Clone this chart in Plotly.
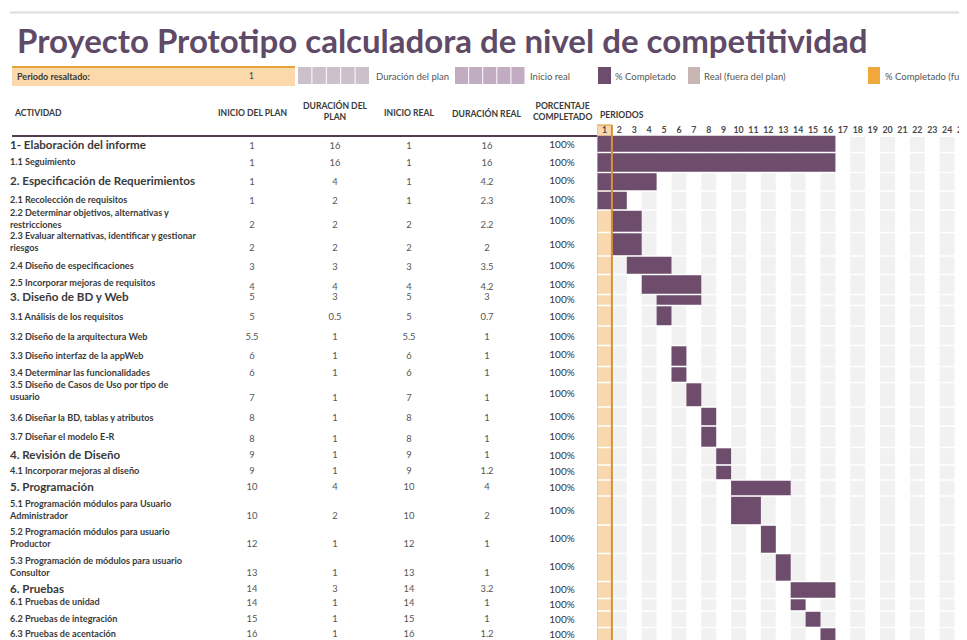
import plotly.graph_objects as go

# ---------------- data ----------------
activities = [
    "1- Elaboración del informe",
    "1.1 Seguimiento",
    "2. Especificación de Requerimientos",
    "2.1 Recolección de requisitos",
    "2.2 Determinar objetivos, alternativas y<br>restricciones",
    "2.3 Evaluar alternativas, identificar y gestionar<br>riesgos",
    "2.4 Diseño de especificaciones",
    "2.5 Incorporar mejoras de requisitos",
    "3. Diseño de BD y Web",
    "3.1 Análisis de los requisitos",
    "3.2 Diseño de la arquitectura Web",
    "3.3 Diseño interfaz de la appWeb",
    "3.4 Determinar las funcionalidades",
    "3.5 Diseño de Casos de Uso por tipo de<br>usuario",
    "3.6 Diseñar la BD, tablas y atributos",
    "3.7 Diseñar el modelo E-R",
    "4. Revisión de Diseño",
    "4.1 Incorporar mejoras al diseño",
    "5. Programación",
    "5.1 Programación módulos para Usuario<br>Administrador",
    "5.2 Programación módulos para usuario<br>Productor",
    "5.3 Programación de módulos para usuario<br>Consultor",
    "6. Pruebas",
    "6.1 Pruebas de unidad",
    "6.2 Pruebas de integración",
    "6.3 Pruebas de acentación",
]
is_section = [1, 0, 1, 0, 0, 0, 0, 0, 1, 0, 0, 0, 0, 0, 0, 0, 1, 0, 1, 0, 0, 0, 1, 0, 0, 0]
plan_start = [1, 1, 1, 1, 2, 2, 3, 4, 5, 5, 5.5, 6, 6, 7, 8, 8, 9, 9, 10, 10, 12, 13, 14, 14, 15, 16]
plan_dur = [16, 16, 4, 2, 2, 2, 3, 4, 3, 0.5, 1, 1, 1, 1, 1, 1, 1, 1, 4, 2, 1, 1, 3, 1, 1, 1]
real_start = [1, 1, 1, 1, 2, 2, 3, 4, 5, 5, 5.5, 6, 6, 7, 8, 8, 9, 9, 10, 10, 12, 13, 14, 14, 15, 16]
real_dur = [16, 16, 4.2, 2.3, 2.2, 2, 3.5, 4.2, 3, 0.7, 1, 1, 1, 1, 1, 1, 1, 1.2, 4, 2, 1, 1, 3.2, 1, 1, 1.2]
pct_complete = [100] * 26
# period cells painted in the Gantt (as seen in the sheet)
gantt_start = [1, 1, 1, 1, 2, 2, 3, 4, 5, 5, 0, 6, 6, 7, 8, 8, 9, 9, 10, 10, 12, 13, 14, 14, 15, 16]
gantt_cells = [16, 16, 4, 2, 2, 2, 3, 4, 3, 1, 0, 1, 1, 1, 1, 1, 1, 1, 4, 2, 1, 1, 3, 1, 1, 1]
periods = list(range(1, 26))
highlight_period = 1

title = "Proyecto Prototipo calculadora de nivel de competitividad"

# ---------------- layout (page-pixel geometry of the sheet) ----------------
PW, PH = 967, 640   # page size
OFF = 8             # default page margin around the plot div
W, H = PW - OFF, PH - OFF
G0 = 597.0          # page x of left edge of period grid
CW = 14.9           # width of one period column


def px(x):          # page x -> paper fraction
    return (x - OFF) / W


row_edges = [135, 152.5, 172.5, 191, 210, 232.5, 256, 274.5, 294.5, 305.5, 326, 345.5,
             366.5, 382.5, 407, 426, 447.5, 465, 480, 496, 525, 553.5, 581.5, 598.5,
             611, 627.5, 645]
label_y = [146, 163, 182, 201, 220, 243, 267, 284, 298, 318, 338, 357, 374, 392, 419, 438,
           456, 472, 488, 511, 539, 568, 590, 603, 620, 635]
value_y = [147, 164, 183, 202, 226, 249, 268, 288, 298, 318, 338, 357, 374, 399, 419, 440,
           456, 472, 488, 517, 545, 574, 590, 604, 620, 635]
pct_y = [145, 163, 181, 200, 221, 245, 266, 285, 300, 317, 337, 355, 373, 394, 417, 437,
         456, 472, 488, 511, 539, 567, 590, 605, 620, 635]
col_x = {"ps": 252, "pd": 335, "rs": 409, "rd": 487, "pc": 562}

PURPLE = "#6e4d6c"
TXT = "#3a3a3a"
VAL = "#555555"
FONT = "Lato"

row_c = [(row_edges[i] + row_edges[i + 1]) / 2 for i in range(len(activities))]
row_h = [(row_edges[i + 1] - row_edges[i]) for i in range(len(activities))]

fig = go.Figure()


def fmt(v):
    return f"{v:g}"


# Gantt bars
fig.add_trace(go.Bar(
    orientation="h",
    y=row_c,
    x=gantt_cells,
    base=[s - 1 for s in gantt_start],
    width=[h - 1.6 for h in row_h],
    marker=dict(color=PURPLE, line=dict(width=0)),
    hoverinfo="skip",
    xaxis="x", yaxis="y",
    showlegend=False,
))

# Period header numbers
fig.add_trace(go.Scatter(
    x=[p - 0.5 for p in periods], y=[131] * len(periods),
    mode="text", text=[str(p) for p in periods],
    textfont=dict(family=FONT, size=8.8, color="#4a4a4a", weight="bold"),
    textposition="middle center", hoverinfo="skip", showlegend=False,
    cliponaxis=False, xaxis="x", yaxis="y",
))

# Table: activity labels
sec_idx = [i for i in range(len(activities)) if is_section[i]]
sub_idx = [i for i in range(len(activities)) if not is_section[i]]
fig.add_trace(go.Scatter(
    x=[10] * len(sec_idx), y=[label_y[i] for i in sec_idx],
    mode="text", text=[activities[i] for i in sec_idx],
    textfont=dict(family=FONT, size=11.6, color=TXT, weight="bold"),
    textposition="middle right", hoverinfo="skip", showlegend=False,
    cliponaxis=False, xaxis="x2", yaxis="y",
))
fig.add_trace(go.Scatter(
    x=[10] * len(sub_idx), y=[label_y[i] for i in sub_idx],
    mode="text", text=[activities[i] for i in sub_idx],
    textfont=dict(family=FONT, size=9.1, color=TXT, weight="bold"),
    textposition="middle right", hoverinfo="skip", showlegend=False,
    cliponaxis=False, xaxis="x2", yaxis="y",
))

# Table: numeric columns
for key, vals in (("ps", plan_start), ("pd", plan_dur), ("rs", real_start), ("rd", real_dur)):
    fig.add_trace(go.Scatter(
        x=[col_x[key]] * len(vals), y=value_y,
        mode="text", text=[fmt(v) for v in vals],
        textfont=dict(family=FONT, size=9.4, color=VAL),
        textposition="middle center", hoverinfo="skip", showlegend=False,
        cliponaxis=False, xaxis="x2", yaxis="y",
    ))
fig.add_trace(go.Scatter(
    x=[col_x["pc"]] * len(pct_complete), y=pct_y,
    mode="text", text=[f"{v}%" for v in pct_complete],
    textfont=dict(family=FONT, size=10, color="#333333"),
    textposition="middle center", hoverinfo="skip", showlegend=False,
    cliponaxis=False, xaxis="x2", yaxis="y",
))

shapes = []
# top grey rule
shapes.append(dict(type="line", xref="paper", yref="y", x0=px(10), x1=1, y0=12.5, y1=12.5,
                   line=dict(color="#e3e3e3", width=2.5), layer="below"))
# Periodo resaltado box
shapes.append(dict(type="rect", xref="x2", yref="y", x0=12, x1=295, y0=67, y1=86,
                   fillcolor="#fbd9ab", line=dict(width=0), layer="below"))
shapes.append(dict(type="line", xref="x2", yref="y", x0=12, x1=295, y0=67, y1=67,
                   line=dict(color="#e8a23c", width=2.2), layer="below"))
# legend: plan duration cells
for k in range(5):
    shapes.append(dict(type="rect", xref="x2", yref="y", x0=298 + k * 14.4, x1=298 + (k + 1) * 14.4 - 1,
                       y0=67, y1=84, fillcolor="#cbc0cc", line=dict(width=0), layer="below"))
# legend: real start cells
for k in range(5):
    shapes.append(dict(type="rect", xref="x2", yref="y", x0=455 + k * 14.1, x1=455 + (k + 1) * 14.1 - 1,
                       y0=67, y1=84, fillcolor="#bba3bb", opacity=0.9, line=dict(width=0), layer="above"))
# legend swatches
shapes.append(dict(type="rect", xref="paper", yref="y", x0=px(598), x1=px(611), y0=67, y1=84,
                   fillcolor=PURPLE, line=dict(width=0)))
shapes.append(dict(type="rect", xref="paper", yref="y", x0=px(688), x1=px(700), y0=67, y1=84,
                   fillcolor="#c8b6b3", line=dict(width=0)))
shapes.append(dict(type="rect", xref="paper", yref="y", x0=px(868), x1=px(880), y0=67, y1=84,
                   fillcolor="#f0a83a", line=dict(width=0)))
# header rule
shapes.append(dict(type="line", xref="x2", yref="y", x0=12, x1=G0, y0=136, y1=136,
                   line=dict(color="#4e3e50", width=2), layer="below"))
# grey stripes for even periods
for p in periods:
    if p % 2 == 0:
        shapes.append(dict(type="rect", xref="x", yref="y", x0=p - 1, x1=p, y0=137, y1=PH,
                           fillcolor="#f1f1f1", line=dict(width=0), layer="below"))
# highlighted period column
shapes.append(dict(type="rect", xref="x", yref="y", x0=highlight_period - 1, x1=highlight_period,
                   y0=125, y1=PH, fillcolor="#fad8ae", line=dict(width=0), layer="below"))
# white row separators in grid
for e in row_edges[1:-1]:
    shapes.append(dict(type="line", xref="x", yref="y", x0=0, x1=26, y0=e, y1=e,
                       line=dict(color="white", width=1.4), layer="below"))
# highlight borders
shapes.append(dict(type="line", xref="x", yref="y", x0=highlight_period - 1, x1=highlight_period - 1,
                   y0=125, y1=PH, line=dict(color="#f0bd78", width=1.2), layer="above"))
shapes.append(dict(type="line", xref="x", yref="y", x0=highlight_period, x1=highlight_period,
                   y0=125, y1=PH, line=dict(color="#d4923a", width=2), layer="above"))
shapes.append(dict(type="line", xref="x", yref="y", x0=highlight_period - 1, x1=highlight_period,
                   y0=125, y1=125, line=dict(color="#e0a050", width=1.2), layer="below"))

ann = []


def A(x, y, text, size, color=TXT, bold=False, xanchor="left", xref="x2", align="left"):
    ann.append(dict(x=x, y=y, xref=xref, yref="y", text=text, showarrow=False,
                    xanchor=xanchor, yanchor="middle", align=align,
                    font=dict(family=FONT, size=size, color=color, weight="bold" if bold else "normal")))


A(15, 40, title, 33, color="#5f4a67", bold=True)
A(15, 76, "Periodo resaltado:", 9, bold=True)
A(251, 76, str(highlight_period), 8.5, xanchor="center")
A(374, 76, "Duración del plan", 9.5, color=VAL)
A(528, 76, "Inicio real", 9.5, color=VAL)
A(px(613), 76, "% Completado", 9.5, color=VAL, xref="paper")
A(px(702), 76, "Real (fuera del plan)", 9.5, color=VAL, xref="paper")
A(px(883), 76, "% Completado (fuera del plan)", 9.5, color=VAL, xref="paper")

HS = 8.6
A(12, 113, "ACTIVIDAD", HS, bold=True)
A(col_x["ps"], 113, "INICIO DEL PLAN", HS, bold=True, xanchor="center", align="center")
A(col_x["pd"], 111, "DURACIÓN DEL<br>PLAN", HS, bold=True, xanchor="center", align="center")
A(col_x["rs"], 113, "INICIO REAL", HS, bold=True, xanchor="center", align="center")
A(col_x["rd"], 113, "DURACIÓN REAL", HS, bold=True, xanchor="center", align="center")
A(col_x["pc"], 111, "PORCENTAJE<br>COMPLETADO", HS, bold=True, xanchor="center", align="center")
A(px(598), 115, "PERIODOS", HS, bold=True, xref="paper")

fig.update_layout(
    width=W, height=H, autosize=False,
    margin=dict(l=0, r=0, t=0, b=0),
    paper_bgcolor="white", plot_bgcolor="rgba(0,0,0,0)",
    showlegend=False, barmode="overlay",
    xaxis=dict(domain=[px(G0), 1], range=[0, (PW - G0) / CW], visible=False, fixedrange=True),
    xaxis2=dict(domain=[0, px(G0)], range=[OFF, G0], visible=False, anchor="y", fixedrange=True),
    yaxis=dict(domain=[0, 1], range=[PH, OFF], visible=False, fixedrange=True),
    shapes=shapes, annotations=ann,
    font=dict(family=FONT),
)

fig.write_html("out.html")
